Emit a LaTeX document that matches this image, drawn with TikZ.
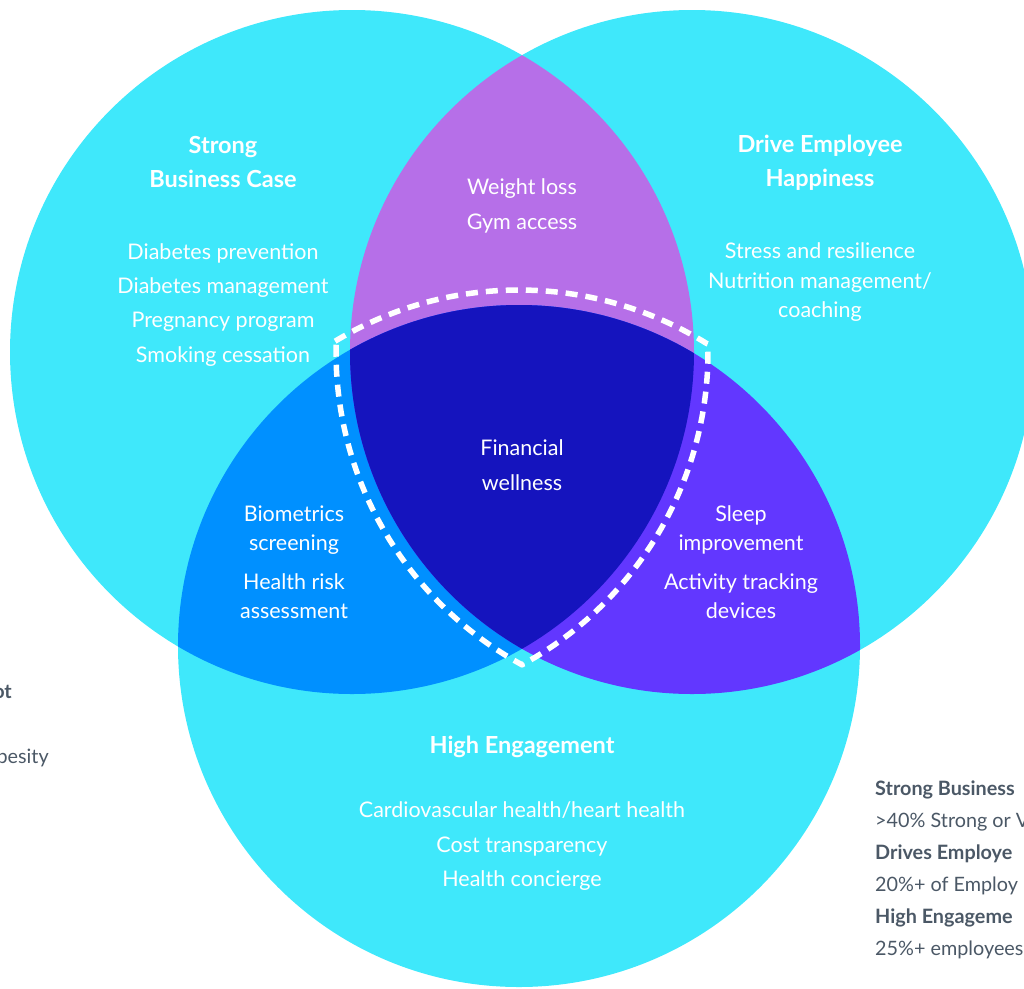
\documentclass[tikz,border=0pt]{standalone}
\usepackage{fontspec}
\setmainfont{Lato}
\definecolor{cyanc}{HTML}{3FE8FB}
\definecolor{purp}{HTML}{B66FE8}
\definecolor{blueL}{HTML}{0090FF}
\definecolor{violR}{HTML}{6237FF}
\definecolor{navyc}{HTML}{1514BE}
\definecolor{slatec}{HTML}{4B5866}
\newcommand\vbody{\fontsize{21.5}{26}\selectfont}
\newcommand\vhead{\fontsize{23.5}{28}\selectfont\bfseries}
\newcommand\vleg{\fontsize{19.8}{24}\selectfont}
\newcommand\vlegb{\fontsize{19.8}{24}\selectfont\bfseries}
\tikzset{
  body/.style={text=white, font=\vbody, anchor=base, inner sep=0pt},
  head/.style={text=white, font=\vhead, anchor=base, inner sep=0pt},
  leg/.style={text=slatec, font=\vleg, anchor=base west, inner sep=0pt},
  legb/.style={text=slatec, font=\vlegb, anchor=base west, inner sep=0pt},
  dashline/.style={draw=white, line width=5.5pt, dash pattern=on 12pt off 8pt, line join=round}
}
\begin{document}
\begin{tikzpicture}[x=1pt,y=-1pt]
\useasboundingbox (0,0) rectangle (1024,988);
\clip (0,0) rectangle (1024,988);
% circles
\coordinate (A) at (352,352);
\coordinate (B) at (692,352);
\coordinate (C) at (519,646);
\fill[cyanc] (A) circle[radius=342];
\fill[cyanc] (B) circle[radius=342];
\fill[cyanc] (C) circle[radius=341];
\begin{scope}
  \clip (A) circle[radius=342];
  \fill[purp] (B) circle[radius=342];
\end{scope}
\begin{scope}
  \clip (A) circle[radius=342];
  \fill[blueL] (C) circle[radius=341];
\end{scope}
\begin{scope}
  \clip (B) circle[radius=342];
  \fill[violR] (C) circle[radius=341];
\end{scope}
\begin{scope}
  \clip (A) circle[radius=342];
  \clip (B) circle[radius=342];
  \fill[navyc] (C) circle[radius=341];
\end{scope}
% dashed outline of the centre
\draw[dashline]
  plot[domain=-121.1:-58.2, samples=80] ({519+356*cos(\x)}, {646+356*sin(\x)})
  -- plot[domain=-1.3:61.5, samples=80] ({352+356*cos(\x)}, {352+356*sin(\x)})
  -- plot[domain=118.5:181.8, samples=80] ({692+356*cos(\x)}, {352+356*sin(\x)})
  -- cycle;
% left circle texts
\node[head] (t1) at (223,153) {Strong};
\node[head] (t2) at (223,187) {Business Case};
\node[body] (l1) at (223,259) {Diabetes prevention};
\node[body] (l2) at (223,293) {Diabetes management};
\node[body] (l3) at (223,327) {Pregnancy program};
\node[body] (l4) at (223,362) {Smoking cessation};
% top lens
\node[body] (w1) at (522,194) {Weight loss};
\node[body] (w2) at (522,229) {Gym access};
% right circle texts
\node[head] (r1) at (820,152) {Drive Employee};
\node[head] (r2) at (820,186) {Happiness};
\node[body] (r3) at (820,258) {Stress and resilience};
\node[body] (r4) at (820,288) {Nutrition management/};
\node[body] (r5) at (820,317) {coaching};
% centre
\node[body] (c1) at (522,455) {Financial};
\node[body] (c2) at (522,490) {wellness};
% left lower lens
\node[body] (b1) at (294,521) {Biometrics};
\node[body] (b2) at (294,550) {screening};
\node[body] (b3) at (294,589) {Health risk};
\node[body] (b4) at (294,618) {assessment};
% right lower lens
\node[body] (s1) at (741,521) {Sleep};
\node[body] (s2) at (741,550) {improvement};
\node[body] (s3) at (741,589) {Activity tracking};
\node[body] (s4) at (741,618) {devices};
% bottom circle
\node[head] (h1) at (522,753) {High Engagement};
\node[body] (h2) at (522,817) {Cardiovascular health/heart health};
\node[body] (h3) at (522,852) {Cost transparency};
\node[body] (h4) at (522,886) {Health concierge};
% cut-off side texts
\node[legb, anchor=base east] (x1) at (12,698) {ot};
\node[leg, anchor=base east] (x2) at (49,763) {besity};
\node[legb] (g1) at (875,795) {Strong Business};
\node[leg] (g2) at (875,827) {>40\% Strong or V};
\node[legb] (g3) at (875,859) {Drives Employe};
\node[leg] (g4) at (875,891) {20\%+ of Employ};
\node[legb] (g5) at (875,923) {High Engageme};
\node[leg] (g6) at (875,955) {25\%+ employees};
\end{tikzpicture}
\end{document}
